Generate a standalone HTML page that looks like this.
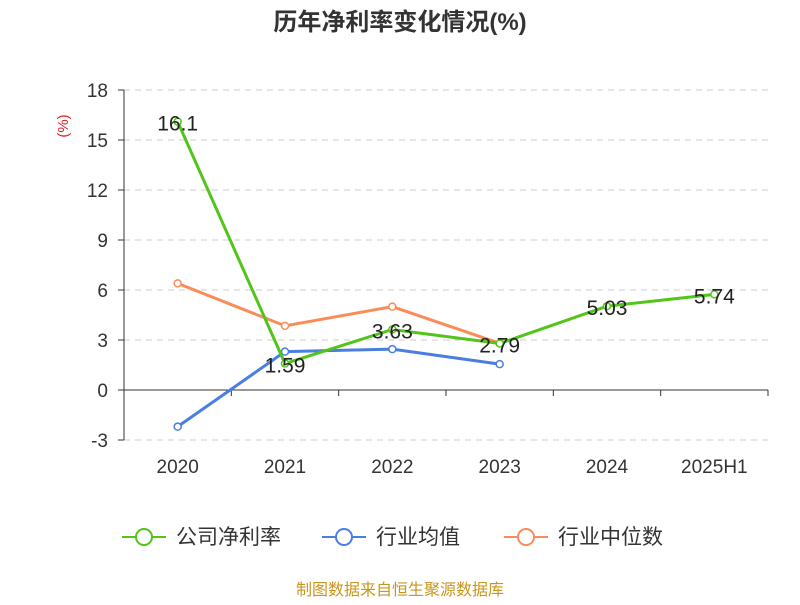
<!DOCTYPE html>
<html><head><meta charset="utf-8"><style>
body{margin:0;background:#fff;font-family:"Liberation Sans","Noto Sans CJK SC",sans-serif;}
</style></head><body>
<svg id="chart" width="800" height="600" xmlns="http://www.w3.org/2000/svg" style="font-family:'Liberation Sans','Noto Sans CJK SC',sans-serif">
<text x="400" y="30" text-anchor="middle" font-size="24" font-weight="bold" fill="#333">历年净利率变化情况(%)</text>
<text x="68" y="126" font-size="15" fill="#e02020" transform="rotate(-90 68 126)" text-anchor="middle">(%)</text>
<g id="grid"></g><g id="series"></g>
<g font-size="21" fill="#333">
<g><line x1="122" y1="537" x2="166" y2="537" stroke="#52c41a" stroke-width="2"/><circle cx="144" cy="537" r="8" fill="#fff" stroke="#52c41a" stroke-width="2"/><text x="176" y="544">公司净利率</text></g>
<g><line x1="322" y1="537" x2="366" y2="537" stroke="#4a7ee0" stroke-width="2"/><circle cx="344" cy="537" r="8" fill="#fff" stroke="#4a7ee0" stroke-width="2"/><text x="376" y="544">行业均值</text></g>
<g><line x1="504" y1="537" x2="548" y2="537" stroke="#fa8c5a" stroke-width="2"/><circle cx="526" cy="537" r="8" fill="#fff" stroke="#fa8c5a" stroke-width="2"/><text x="558" y="544">行业中位数</text></g>
</g>
<text x="400" y="595" text-anchor="middle" font-size="16" fill="#c8961e">制图数据来自恒生聚源数据库</text>
</svg>
<script>
const categories=["2020","2021","2022","2023","2024","2025H1"];
const companyValues=[16.1,1.59,3.63,2.79,5.03,5.74];
const industryAvg=[-2.2,2.3,2.45,1.55,null,null];
const industryMedian=[6.4,3.85,5.0,2.8,null,null];
const yTicks=[-3,0,3,6,9,12,15,18];
const NS="http://www.w3.org/2000/svg";
const x0=124,x1=768,bw=(x1-x0)/categories.length;
const X=i=>x0+bw*(i+0.5);
const Y=v=>390-v*(300/18);
function mk(tag,attrs,parent){const e=document.createElementNS(NS,tag);for(const k in attrs)e.setAttribute(k,attrs[k]);parent.appendChild(e);return e;}
const grid=document.getElementById('grid'),ser=document.getElementById('series');
yTicks.forEach(t=>{
 if(t!==0){const l=mk('line',{x1:x0,x2:x1,y1:Y(t),y2:Y(t),stroke:'#ccc','stroke-dasharray':'6,5'},grid);
 
 }
 const tk=mk('line',{x1:x0-6,x2:x0,y1:Y(t),y2:Y(t),stroke:'#333'},grid);
 
 
 const tx=mk('text',{x:x0-16,y:Y(t)+7,'text-anchor':'end','font-size':19,fill:'#333'},grid);
 
 
 tx.textContent=t;
});
const ya=mk('line',{x1:x0,x2:x0,y1:Y(18),y2:Y(-3),stroke:'#333'},grid);


const xa=mk('line',{x1:x0,x2:x1,y1:Y(0),y2:Y(0),stroke:'#333'},grid);


categories.forEach((c,i)=>{
 const tk=mk('line',{x1:x0+bw*(i+1),x2:x0+bw*(i+1),y1:Y(0),y2:Y(0)+6,stroke:'#333'},grid);
 
 
 const tx=mk('text',{x:X(i),y:473,'text-anchor':'middle','font-size':19,fill:'#333'},grid);
 
 
 tx.textContent=c;
});
function drawSeries(vals,color,name,labels){
 const pts=vals.map((v,i)=>v==null?null:[X(i),Y(v)]).filter(p=>p);
 const pl=mk('polyline',{points:pts.map(p=>p.join(',')).join(' '),fill:'none',stroke:color,'stroke-width':3},ser);
 
 
 vals.forEach((v,i)=>{if(v==null)return;
  const c=mk('circle',{cx:X(i),cy:Y(v),r:3.5,fill:'#fff',stroke:color,'stroke-width':1.5},ser);
  
  
  if(labels){const t=mk('text',{x:X(i),y:Y(v)+9,'text-anchor':'middle','font-size':21,fill:'#222'},ser);
  
  
  t.textContent=v;}
 });
}
drawSeries(industryMedian,'#fa8c5a','industry-median',false);
drawSeries(industryAvg,'#4a7ee0','industry-avg',false);
drawSeries(companyValues,'#52c41a','company',true);
</script>
</body></html>
